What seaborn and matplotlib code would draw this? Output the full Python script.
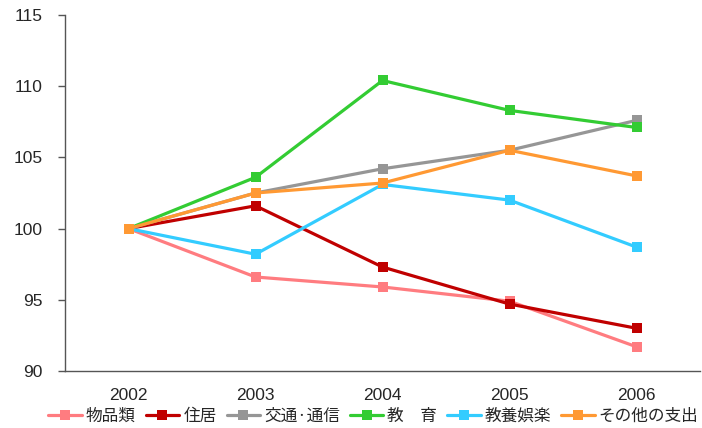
import numpy as np
import pandas as pd
import matplotlib
matplotlib.use('Agg')
import matplotlib.pyplot as plt
import seaborn as sns

# values
years = ['2002', '2003', '2004', '2005', '2006']
goods = [100, 96.6, 95.9, 94.9, 91.7]
housing = [100, 101.6, 97.3, 94.7, 93.0]
transport = [100, 102.5, 104.2, 105.5, 107.6]
education = [100, 103.6, 110.4, 108.3, 107.1]
culture = [100, 98.2, 103.1, 102.0, 98.7]
other = [100, 102.5, 103.2, 105.5, 103.7]

names = ['物品類', '住居', '交通·通信', '教\u3000育', '教養娯楽', 'その他の支出']
series = [goods, housing, transport, education, culture, other]
colors = ['#FF7C80', '#C00000', '#969696', '#33CC33', '#33CCFF', '#FF9933']

df = pd.DataFrame({
    'pos': np.tile(np.arange(len(years)), len(names)),
    'value': np.concatenate(series),
    'item': np.repeat(names, len(years)),
})

sns.set_style('white')
plt.rcParams['font.family'] = ['Liberation Sans', 'Noto Sans CJK JP', 'DejaVu Sans']

fig = plt.figure(figsize=(7.02, 4.28), dpi=100)
ax = fig.add_axes([0.0926, 0.1332, 0.9046, 0.8318])

sns.lineplot(data=df, x='pos', y='value', hue='item', hue_order=names,
             palette=colors, marker='s', markersize=6.5, markeredgewidth=0,
             linewidth=2.3, ax=ax, legend=True)

ax.set_xlim(-0.5, 4.5)
ax.set_ylim(90, 115)
ax.set_yticks(range(90, 116, 5))
ax.set_xticks(range(len(years)))
ax.set_xticklabels(years)
ax.set_xticks(np.arange(0.5, 4.6, 1), minor=True)
ax.tick_params(axis='x', which='major', length=0, pad=12, labelsize=12.5)
ax.tick_params(axis='x', which='minor', length=5, width=1, color='#555555', direction='out')
ax.tick_params(axis='y', length=5, width=1, color='#555555', direction='out', left=True,
               labelsize=12.5, pad=11)
ax.set_xlabel('')
ax.set_ylabel('')
for s in ['top', 'right']:
    ax.spines[s].set_visible(False)
for s in ['left', 'bottom']:
    ax.spines[s].set_color('#555555')
    ax.spines[s].set_linewidth(1)

handles, labels = ax.get_legend_handles_labels()
ax.get_legend().remove()
fig.legend(handles, labels, loc='center', bbox_to_anchor=(373.5 / 702, 12 / 428), ncol=6,
           frameon=False, handlelength=2.0, handletextpad=0.25, columnspacing=0.6,
           borderaxespad=0, borderpad=0,
           prop={'family': ['Noto Sans CJK JP', 'DejaVu Sans'], 'size': 12})

fig.savefig('out.png', dpi=100)
